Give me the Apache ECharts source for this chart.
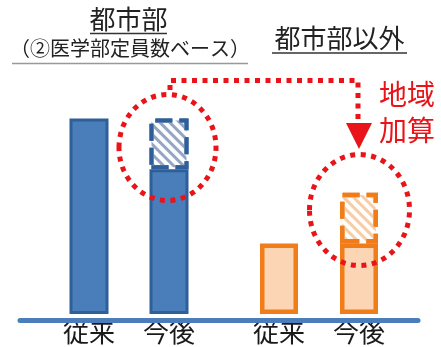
<!DOCTYPE html>
<html><head><meta charset="utf-8">
<script src="https://cdn.jsdelivr.net/npm/echarts@6/dist/echarts.min.js"></script>
<style>html,body{margin:0;padding:0;background:#fff}#c{width:441px;height:347px}</style>
</head><body><div id="c"></div>
<script>
// ---- data ----
const categories = ['従来', '今後'];
const urbanBase = [100, 74];      // 都市部: solid part
const urbanAdd = ['-', 26];       // 都市部: 地域加算 (hatched)
const ruralBase = [36, 36];       // 都市部以外: solid part
const ruralAdd = ['-', 26];       // 都市部以外: 地域加算 (hatched)
const groupTitles = ['都市部', '都市部以外'];
const subTitle = '（②医学部定員数ベース）';
const noteLines = ['地域', '加算'];

const FONT = '"Noto Sans CJK JP", sans-serif';
const RED = '#e8141a';
const BLUE = '#4a7ebb', BLUE_D = '#2f5f98';
const OR = '#f07d1a', OR_L = '#fcd5b4';

const chart = echarts.init(document.getElementById('c'), null, {renderer: 'canvas'});

function hatch(color) {
  return {symbol: 'rect', symbolSize: 1, dashArrayX: [1, 0], dashArrayY: [3, 4], rotation: Math.PI / 4, color: color};
}

const grids = [
  {left: 49, width: 160, top: 118.5, bottom: 27},
  {left: 239, width: 160, top: 118.5, bottom: 27},
  {left: 20, right: 23, top: 118.5, bottom: 27}
];
const xAxes = [0, 1].map(i => ({
  type: 'category', gridIndex: i, data: categories,
  axisLine: {show: false}, axisTick: {show: false},
  axisLabel: {fontFamily: FONT, fontSize: 26, color: '#1a1a1a', margin: 3, lineHeight: 30}
}));
xAxes.push({type: 'value', gridIndex: 2, min: 0, max: 1, z: 10,
  axisLine: {show: true, onZero: false, lineStyle: {color: BLUE, width: 5}},
  axisTick: {show: false}, axisLabel: {show: false}, splitLine: {show: false}});
const yAxes = [0, 1, 2].map(i => ({type: 'value', gridIndex: i, min: 0, max: 100, show: false}));

const series = [
  {type: 'bar', xAxisIndex: 0, yAxisIndex: 0, stack: 'u', barWidth: 39, data: urbanBase,
   itemStyle: {color: BLUE, borderColor: BLUE_D, borderWidth: 3}},
  {type: 'bar', xAxisIndex: 0, yAxisIndex: 0, stack: 'u', barWidth: 39, data: urbanAdd,
   itemStyle: {color: '#fff', borderColor: BLUE_D, borderWidth: 4, borderType: [17, 7], decal: hatch('#95a6c4')}},
  {type: 'bar', xAxisIndex: 1, yAxisIndex: 1, stack: 'r', barWidth: 38, data: ruralBase,
   itemStyle: {color: OR_L, borderColor: OR, borderWidth: 4.5}},
  {type: 'bar', xAxisIndex: 1, yAxisIndex: 1, stack: 'r', barWidth: 38, data: ruralAdd,
   itemStyle: {color: '#fff', borderColor: OR, borderWidth: 4.5, borderType: [17, 7], decal: hatch('#f6cda6')}}
];

const redDash = {fill: null, stroke: RED, lineWidth: 5, lineDash: [5, 5.5]};
const graphic = [
  {type: 'text', style: {text: groupTitles[0], x: 128.5, y: 6, font: '26px ' + FONT, fill: '#222', align: 'center'}},
  {type: 'line', shape: {x1: 90, y1: 33.5, x2: 167, y2: 33.5}, style: {stroke: '#333', lineWidth: 1.5}},
  {type: 'text', style: {text: subTitle, x: 130, y: 38, font: '20px ' + FONT, fill: '#222', align: 'center'}},
  {type: 'line', shape: {x1: 12, y1: 63.5, x2: 248, y2: 63.5}, style: {stroke: '#999', lineWidth: 1.5}},
  {type: 'text', style: {text: groupTitles[1], x: 339.5, y: 25, font: '26px ' + FONT, fill: '#222', align: 'center'}},
  {type: 'line', shape: {x1: 272, y1: 53, x2: 407, y2: 53}, style: {stroke: '#333', lineWidth: 1.5}},
  {type: 'text', style: {text: noteLines[0], x: 407, y: 80, font: '28px ' + FONT, fill: RED, align: 'center'}},
  {type: 'text', style: {text: noteLines[1], x: 407, y: 116, font: '28px ' + FONT, fill: RED, align: 'center'}},
  {type: 'ellipse', shape: {cx: 167.5, cy: 147.5, rx: 48.5, ry: 53}, style: redDash, z: 20},
  {type: 'ellipse', shape: {cx: 359.5, cy: 210, rx: 50, ry: 55.5}, style: redDash, z: 20},
  {type: 'polyline', shape: {points: [[170, 90], [170, 80.5], [358, 80.5], [358, 126]]}, style: redDash, z: 20},
  {type: 'polygon', shape: {points: [[346, 123], [372, 123], [359, 149]]}, style: {fill: RED}, z: 20}
];

chart.setOption({
  animation: false,
  grid: grids, xAxis: xAxes, yAxis: yAxes, series: series, graphic: graphic
});
</script></body></html>
